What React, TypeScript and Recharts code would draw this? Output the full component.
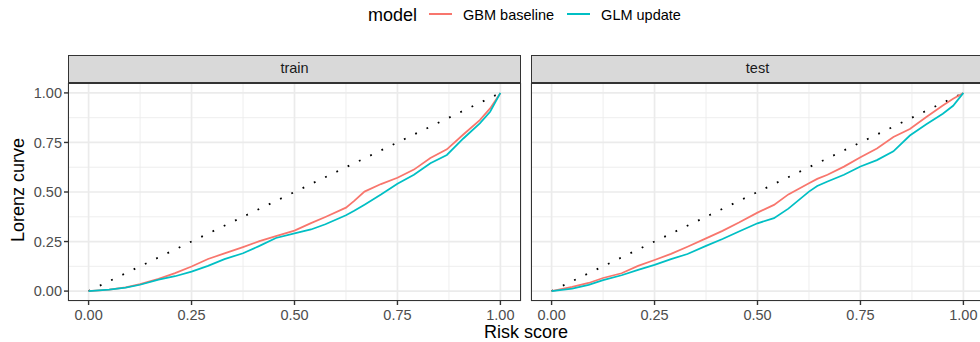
import { LineChart, Line, XAxis, YAxis, CartesianGrid, ReferenceLine } from 'recharts';

// x positions (risk score) shared by every curve
const riskScore = [0, 0.05, 0.09, 0.125, 0.17, 0.21, 0.25, 0.29, 0.33, 0.375, 0.415, 0.455, 0.5, 0.54, 0.575, 0.625, 0.645, 0.67, 0.71, 0.75, 0.79, 0.83, 0.87, 0.91, 0.95, 0.975, 1];

const gbmTrain = [0, 0.008, 0.019, 0.035, 0.062, 0.091, 0.124, 0.162, 0.19, 0.222, 0.252, 0.277, 0.305, 0.343, 0.374, 0.421, 0.455, 0.502, 0.54, 0.572, 0.613, 0.672, 0.715, 0.79, 0.863, 0.922, 1];
const glmTrain = [0, 0.007, 0.018, 0.032, 0.058, 0.075, 0.098, 0.127, 0.161, 0.191, 0.228, 0.268, 0.291, 0.311, 0.337, 0.383, 0.405, 0.436, 0.487, 0.542, 0.587, 0.645, 0.687, 0.77, 0.846, 0.905, 1];
const gbmTest = [0, 0.021, 0.041, 0.066, 0.09, 0.127, 0.157, 0.188, 0.224, 0.266, 0.304, 0.346, 0.396, 0.435, 0.488, 0.544, 0.566, 0.587, 0.628, 0.675, 0.72, 0.778, 0.818, 0.878, 0.936, 0.97, 1];
const glmTest = [0, 0.012, 0.031, 0.055, 0.08, 0.107, 0.132, 0.161, 0.187, 0.228, 0.263, 0.301, 0.342, 0.368, 0.416, 0.502, 0.53, 0.553, 0.587, 0.629, 0.661, 0.705, 0.785, 0.842, 0.895, 0.935, 1];

const majorBreaks = [0, 0.25, 0.5, 0.75, 1];
const minorBreaks = [0.125, 0.375, 0.625, 0.875];
const diagonal = [{ x: 0, y: 0 }, { x: 1, y: 1 }];
const panelNames = ['train', 'test'];
const seriesNames = ['GBM baseline', 'GLM update'];
const seriesColors = ['#F8766D', '#00BFC4'];

const FONT = '"Liberation Sans", Arial, Helvetica, sans-serif';
const PANEL_TOP = 83;
const PANEL_H = 218;
const PANEL_W = 453;
const STRIP_TOP = 55;
const GRID = '#EBEBEB';

function Panel({ gbm, glm, left, width, plotLeft, name, showY }: any) {
  const rows = riskScore.map((x, i) => ({ x, gbm: gbm[i], glm: glm[i] }));
  return (
    <>
      <div style={{ position: 'absolute', left, top: 0 }}>
        <LineChart
          width={width}
          height={342}
          data={rows}
          margin={{ top: PANEL_TOP, right: width - (plotLeft - left) - PANEL_W, bottom: 0, left: showY ? 0 : plotLeft - left }}
        >
          <CartesianGrid stroke={GRID} strokeWidth={1.7} />
          {minorBreaks.map((v) => (
            <ReferenceLine key={'vx' + v} x={v} stroke={GRID} strokeWidth={0.85} />
          ))}
          {minorBreaks.map((v) => (
            <ReferenceLine key={'hy' + v} y={v} stroke={GRID} strokeWidth={0.85} />
          ))}
          <XAxis
            dataKey="x"
            type="number"
            domain={[-0.05, 1.05]}
            ticks={majorBreaks}
            interval={0}
            allowDataOverflow
            height={41}
            axisLine={false}
            tickSize={4}
            tickMargin={5}
            tickLine={{ stroke: '#333333', strokeWidth: 1.4 }}
            tick={{ fill: '#4D4D4D', fontSize: 14.5, fontFamily: FONT }}
            tickFormatter={(v: number) => v.toFixed(2)}
          />
          <YAxis
            type="number"
            domain={[-0.05, 1.05]}
            ticks={majorBreaks}
            interval={0}
            allowDataOverflow
            hide={!showY}
            width={plotLeft - left}
            axisLine={false}
            tickSize={4}
            tickMargin={2}
            tickLine={{ stroke: '#333333', strokeWidth: 1.4 }}
            tick={{ fill: '#4D4D4D', fontSize: 14.5, fontFamily: FONT }}
            tickFormatter={(v: number) => v.toFixed(2)}
          />
          <ReferenceLine segment={diagonal} stroke="#000000" strokeWidth={1.8} strokeDasharray="1.8 10.7" />
          <Line type="linear" dataKey="gbm" name={seriesNames[0]} stroke={seriesColors[0]} strokeWidth={1.76} dot={false} isAnimationActive={false} />
          <Line type="linear" dataKey="glm" name={seriesNames[1]} stroke={seriesColors[1]} strokeWidth={1.76} dot={false} isAnimationActive={false} />
        </LineChart>
      </div>
      <div
        style={{
          position: 'absolute', left: plotLeft, top: STRIP_TOP, width: PANEL_W, height: PANEL_TOP - STRIP_TOP,
          boxSizing: 'border-box', background: '#D9D9D9', border: '1.4px solid #333333',
          color: '#1A1A1A', fontSize: 14.5, lineHeight: `${PANEL_TOP - STRIP_TOP - 3}px`, textAlign: 'center',
        }}
      >
        {name}
      </div>
      <div
        style={{
          position: 'absolute', left: plotLeft, top: PANEL_TOP, width: PANEL_W, height: PANEL_H,
          boxSizing: 'border-box', border: '1.4px solid #333333', pointerEvents: 'none',
        }}
      />
    </>
  );
}

export default function App() {
  return (
    <div
      style={{
        position: 'absolute', left: 0, top: 0, width: 980, height: 342, overflow: 'hidden',
        background: '#FFFFFF', fontFamily: FONT,
      }}
    >
      <div style={{ position: 'absolute', left: 368, top: 0, height: 30, display: 'flex', alignItems: 'center', whiteSpace: 'nowrap' }}>
        <span style={{ fontSize: 18, lineHeight: '18px', color: '#000', marginRight: 12 }}>model</span>
        {seriesNames.map((s, i) => (
          <span key={s} style={{ display: 'flex', alignItems: 'center', marginRight: 13 }}>
            <span style={{ display: 'inline-block', width: 23, height: 2, background: seriesColors[i], marginRight: 11, marginTop: -2 }} />
            <span style={{ fontSize: 14.5, lineHeight: '14.5px', color: '#000' }}>{s}</span>
          </span>
        ))}
      </div>

      <Panel gbm={gbmTrain} glm={glmTrain} left={0} width={530} plotLeft={68} name={panelNames[0]} showY />
      <Panel gbm={gbmTest} glm={glmTest} left={521} width={463} plotLeft={531} name={panelNames[1]} showY={false} />

      <div
        style={{
          position: 'absolute', left: 18, top: 190, transform: 'translate(-50%, -50%) rotate(-90deg)',
          fontSize: 18, lineHeight: '18px', whiteSpace: 'nowrap', color: '#000',
        }}
      >
        Lorenz curve
      </div>
      <div
        style={{
          position: 'absolute', left: 526, top: 323, transform: 'translateX(-50%)',
          fontSize: 18, lineHeight: '18px', whiteSpace: 'nowrap', color: '#000',
        }}
      >
        Risk score
      </div>
    </div>
  );
}
